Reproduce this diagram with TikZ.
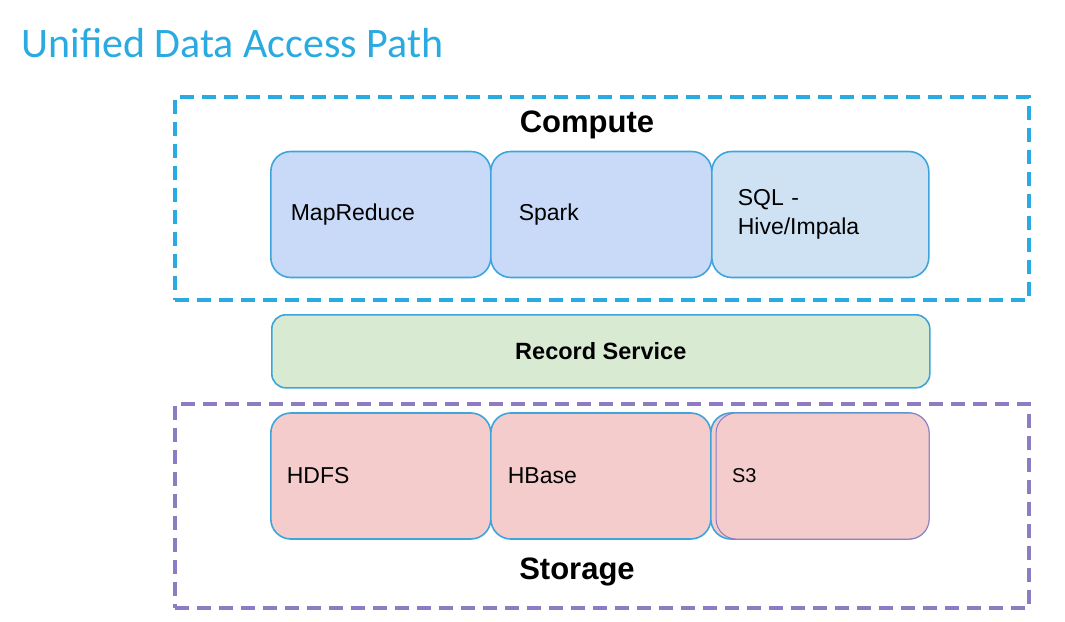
\documentclass[tikz,border=0pt]{standalone}
\usepackage{fontspec}
\setmainfont{Liberation Sans}
\newfontfamily\titlefont{Carlito}
\usetikzlibrary{positioning}

\definecolor{frameblue}{HTML}{29ABE2}
\definecolor{framepurple}{HTML}{8E7CC3}
\definecolor{tileline}{HTML}{3DA5DC}
\definecolor{computefill}{HTML}{C9DAF8}
\definecolor{sqlfill}{HTML}{CFE2F3}
\definecolor{recordfill}{HTML}{D9EAD3}
\definecolor{storefill}{HTML}{F4CCCC}

\tikzset{
	dashframe/.style={draw, line width=3.5pt, dash pattern=on 14pt off 8pt, minimum width=854pt, anchor=north west, inner sep=0pt},
	tile/.style={draw=tileline, line width=1.6pt, rounded corners=20pt, minimum height=126pt, anchor=west, align=left, inner ysep=0pt, font=\fontsize{23}{29}\selectfont},
	heading/.style={font=\bfseries\fontsize{31}{31}\selectfont}
}

\begin{document}
\begin{tikzpicture}[x=1pt,y=-1pt]
\useasboundingbox (0,0) rectangle (1065,621);

\pgfmathsetmacro{\rowTop}{214.5}
\pgfmathsetmacro{\rowBot}{476}

\node[anchor=base west, text=frameblue, font=\titlefont\fontsize{42}{42}\selectfont] (title) at (18,57) {Unified Data Access Path};

% compute layer
\node[dashframe, draw=frameblue, minimum height=203pt] (compute) at (173,95) {};
\node[heading] (computelabel) at (587,125) {Compute};
\node[tile, fill=computefill, inner xsep=20pt, text width=180pt] (mapred) at (270,\rowTop) {MapReduce};
\node[tile, fill=computefill, inner xsep=28pt, text width=165pt, right=-1.6pt of mapred] (spark) {Spark};
\node[tile, fill=sqlfill, inner xsep=26pt, text width=165pt, right=-1.6pt of spark] (sql) {SQL -\\Hive/Impala};

\node[tile, fill=recordfill, anchor=north west, minimum width=658pt, minimum height=73pt, rounded corners=14pt, align=center, font=\bfseries\fontsize{23.5}{23.5}\selectfont] (record) at (271,314) {Record Service};

% storage layer
\node[dashframe, draw=framepurple, minimum height=204pt] (storage) at (173,402) {};
\node[tile, fill=storefill, inner xsep=16pt, text width=188pt] (hdfs) at (270,\rowBot) {HDFS};
\node[tile, fill=storefill, inner xsep=17pt, text width=186pt, right=-1.6pt of hdfs] (hbase) {HBase};
\node[tile, fill=storefill, minimum width=218pt, right=-1.6pt of hbase] (s3back) {};
\node[tile, draw=framepurple, line width=1pt, fill=storefill, inner xsep=16pt, text width=181pt, anchor=east, font=\fontsize{20}{24}\selectfont] (s3) at (s3back.east) {S3};
\node[heading] (storagelabel) at (577,572) {Storage};
\end{tikzpicture}
\end{document}
